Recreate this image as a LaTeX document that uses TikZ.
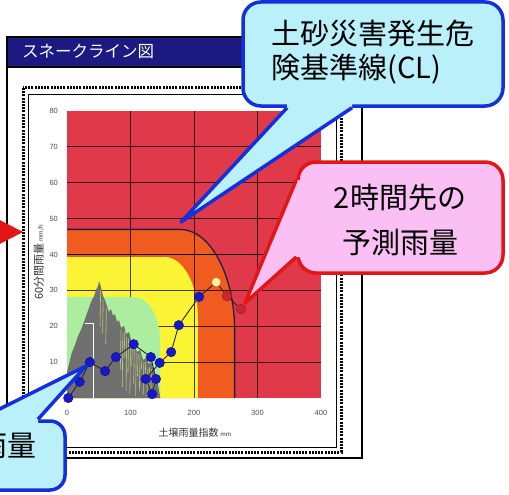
\documentclass[tikz,border=0pt]{standalone}
\usepackage{fontspec}
\newfontfamily\jpfont{Noto Sans CJK JP}
\newfontfamily\numfont{Liberation Sans}
\usetikzlibrary{positioning}
\definecolor{chartred}{RGB}{224,58,74}
\definecolor{chartorange}{RGB}{240,92,32}
\definecolor{chartyellow}{RGB}{250,244,52}
\definecolor{chartgreen}{RGB}{172,238,160}
\definecolor{chartgray}{RGB}{112,112,112}
\definecolor{chartspeck}{RGB}{188,204,122}
\definecolor{titlenavy}{RGB}{26,26,128}
\definecolor{calloutcyan}{RGB}{186,240,250}
\definecolor{calloutblue}{RGB}{20,48,220}
\definecolor{calloutpink}{RGB}{250,192,244}
\definecolor{calloutred}{RGB}{226,22,22}
\definecolor{pointblue}{RGB}{24,24,200}
\definecolor{pointred}{RGB}{208,36,48}
\definecolor{pointpale}{RGB}{255,240,164}
\definecolor{clnavy}{RGB}{30,30,70}
\begin{document}
\begin{tikzpicture}[x=1pt, y=-1pt,
    ticklbl/.style={font=\numfont\fontsize{7.5}{9}\selectfont, text=black!70, inner sep=0pt},
    axlbl/.style={font=\jpfont\fontsize{10}{12}\selectfont, text=black!80, inner sep=0pt},
    gridline/.style={black, opacity=0.75, line width=0.8pt},
    speck/.style={draw=chartspeck, line width=0.6pt},
    dot/.style={circle, fill=pointblue, draw=pointblue!70!black, line width=0.5pt, minimum size=9.5pt, inner sep=0pt},
    reddot/.style={dot, fill=pointred, draw=pointred!70!black},
    paledot/.style={dot, fill=pointpale, draw=orange!80!black},
    dataline/.style={black!85, line width=0.9pt},
    calltext/.style={font=\jpfont\fontsize{29}{35}\selectfont, inner sep=0pt},
    bluebox/.style={draw=calloutblue, fill=calloutcyan, line width=3.5pt, rounded corners=18pt},
    pinkbox/.style={draw=calloutred, fill=calloutpink, line width=3.5pt, rounded corners=18pt},
    tailside/.style={line width=3.5pt, line join=round}]

    \useasboundingbox (0,0) rectangle (509,495);
    \clip (0,0) rectangle (509,495);

    % window
    \draw[line width=2.2pt, fill=white] (7,37) rectangle (362,458);
    \filldraw[fill=titlenavy, draw=black, line width=2.2pt] (7,37) rectangle (362,67);
    \node[font=\jpfont\fontsize{16.5}{20}\selectfont, text=white, anchor=base west, inner sep=0pt] (title) at (22,58) {スネークライン図};
    \draw[line width=3pt, dash pattern=on 2pt off 1.2pt] (23,88) rectangle (341,452);
    \draw[line width=0.8pt] (28,94) rectangle (336,447);

    \fill[calloutred] (-10,215) -- (23,232) -- (-10,249) -- cycle;

    % chart
    \begin{scope}[shift={(67,398)}, x=0.635pt, y=3.5875pt]
        \fill[chartred] (0,0) rectangle (400,80);
        \fill[chartorange] (0,0) -- (0,47) -- (178,47) .. controls (225.5,47) and (264,34.3) .. (264,18.7) -- (264,0) -- cycle;
        \fill[chartyellow] (0,0) -- (0,39.3) -- (154,39.3) .. controls (182.7,39.3) and (206,31.8) .. (206,22.6) -- (206,0) -- cycle;
        \foreach \y in {10,20,...,70}
            \draw[gridline] (0,\y) -- (400,\y);
        \foreach \x in {100,200,300}
            \draw[gridline] (\x,0) -- (\x,80);
        \draw[black, line width=1.4pt] (0,40) -- (400,40);
        \fill[chartgreen] (0,0) -- (0,28.2) -- (104,28.2) .. controls (127.5,28.2) and (146.5,22.8) .. (146.5,16.2) -- (146.5,0) -- cycle;

        \fill[chartgray] plot coordinates {(0,0) (0,7.2) (4.7,10.6) (7.9,12.8) (12.6,14.8) (17.3,17.3) (22,19)
            (26.8,21.2) (29.9,22.9) (34.6,25.1) (37.8,26.8) (42.5,28.4) (45.7,30.1) (48.8,31.2) (50.4,32.6)
            (53.5,30.9) (56.7,28.4) (59.8,27.3) (63,25.6) (66.1,24) (69.3,24.8) (72.4,22.9) (75.6,23.4)
            (78.7,21.2) (81.9,21.7) (85,19.5) (89.8,20.1) (92.9,17.8) (97.6,18.4) (100.8,16.2) (105.5,15.3)
            (110.2,12.8) (115,13.4) (119.7,10.6) (124.4,11.1) (129,9.5) (133,10) (137,7) (141,6) (144,3) (147,0)} -- cycle;
        \foreach \x/\a/\b in {52/20/30, 56/18/27.5, 61/15/25, 84/8/19, 87/3/18, 90/11/18.5, 93/2/17, 96/7/16.5,
            99/1/16, 102/9/15, 105/4/14, 108/0.5/12.5, 111/6/12.5, 114/2/12, 117/8/10.5, 120/1/10,
            123/5/10, 126/0.5/8, 129/3/8.5, 132/0.5/8, 136/0.5/5}
            \draw[speck] (\x,\a) -- (\x+1,\b);
        \draw[white, line width=0.8pt] (28.3,20.9) -- (41,20.9) -- (41,0);

        \draw[clnavy, line width=1.3pt] (0,47) -- (178,47) .. controls (225.5,47) and (264,34.3) .. (264,18.7) -- (264,0);

        \foreach \y in {10,20,...,80}
            \node[ticklbl, anchor=east] at (-14,\y) {\y};
        \foreach \x in {0,100,...,400}
            \node[ticklbl] at (\x,-4.18) {\x};
        \node[axlbl] (xtitle) at (201.6,-9.76) {土壌雨量指数\,{\fontsize{6}{7}\selectfont mm}};
        \node[axlbl, font=\jpfont\fontsize{11}{13}\selectfont, rotate=90] (ytitle) at (-44.1,37.8) {60分間雨量\,{\fontsize{6}{7}\selectfont mm/h}};

        \foreach \n/\x/\y in {1/2/0, 2/20/4.5, 3/36/10, 4/60/7.5, 5/77/11.4, 6/105/15, 7/132/11.4, 8/140/5.3,
            9/134/1.1, 10/124/5.3, 11/146/9.8, 12/164/12.8, 13/176/20.3, 14/208/28.2}
            \node[dot] (p\n) at (\x,\y) {};
        \node[paledot] (p15) at (235,32.3) {};
        \node[reddot] (p16) at (252,28.4) {};
        \node[reddot] (p17) at (274,24.8) {};
        \draw[dataline] (p1) -- (p2) -- (p3) -- (p4) -- (p5) -- (p6) -- (p7) -- (p8) -- (p9)
            -- (p10) -- (p11) -- (p12) -- (p13) -- (p14) -- (p15) -- (p16) -- (p17);
    \end{scope}

    % callouts
    \node[bluebox, minimum width=260pt, minimum height=104pt] (clbox) at (373,54) {};
    \coordinate (cltip) at (181,222);
    \fill[calloutcyan] ([xshift=-86pt]clbox.south) -- (cltip) -- ([xshift=-21pt]clbox.south)
        -- ([xshift=-21pt,yshift=6pt]clbox.south) -- ([xshift=-86pt,yshift=6pt]clbox.south) -- cycle;
    \draw[tailside, calloutblue] ([xshift=-86pt]clbox.south) -- (cltip) -- ([xshift=-21pt]clbox.south);
    \node[calltext, align=left, anchor=base west] (cltext) at (271,79) {土砂災害発生危\\険基準線(CL)};

    \node[pinkbox, minimum width=205pt, minimum height=111pt] (fcbox) at (400.5,217.5) {};
    \coordinate (fctip) at (245,303);
    \fill[calloutpink] ([yshift=37.5pt]fcbox.west) -- (fctip) -- ([yshift=-39.5pt]fcbox.west)
        -- ([xshift=6pt,yshift=-39.5pt]fcbox.west) -- ([xshift=6pt,yshift=37.5pt]fcbox.west) -- cycle;
    \draw[tailside, calloutred] ([yshift=37.5pt]fcbox.west) -- (fctip) -- ([yshift=-39.5pt]fcbox.west);
    \node[calltext, font=\jpfont\fontsize{29}{45}\selectfont, align=center, anchor=base] (fctext) at (400,253) {2時間先の\\予測雨量};

    \node[bluebox, rounded corners=15pt, minimum width=115pt, minimum height=69pt] (rfbox) at (7.5,455.5) {};
    \coordinate (rftip) at (86,366);
    \fill[calloutcyan] ([xshift=-28.5pt]rfbox.north) -- (rftip) -- ([xshift=30.5pt]rfbox.north)
        -- ([xshift=30.5pt,yshift=-6pt]rfbox.north) -- ([xshift=-28.5pt,yshift=-6pt]rfbox.north) -- cycle;
    \draw[tailside, calloutblue] ([xshift=-28.5pt]rfbox.north) -- (rftip) -- ([xshift=30.5pt]rfbox.north);
    \node[calltext, anchor=base east] (rftext) at (36.5,456) {雨量};
\end{tikzpicture}
\end{document}
